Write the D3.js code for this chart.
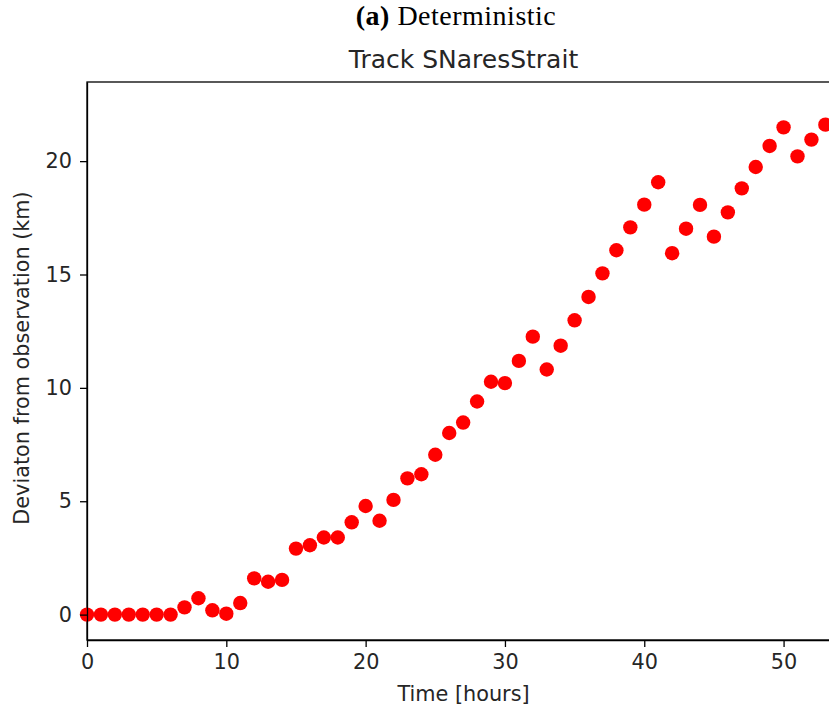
<!DOCTYPE html>
<html>
<head>
<meta charset="utf-8">
<script src="https://cdn.jsdelivr.net/npm/d3@7"></script>
<style>
  html, body { margin: 0; padding: 0; background: #fff; }
  svg { display: block; }
</style>
</head>
<body>
<svg id="chart" width="829" height="706"></svg>
<script>
// Track deviation from observation, one point per hour
const hours = d3.range(0, 54);
const deviationKm = [
  0, 0, 0, 0, 0, 0, 0, 0.32, 0.72, 0.19,
  0.04, 0.51, 1.60, 1.45, 1.53, 2.91, 3.06, 3.40, 3.40, 4.07,
  4.79, 4.14, 5.06, 6.01, 6.19, 7.05, 8.01, 8.47, 9.40, 10.27,
  10.21, 11.19, 12.26, 10.81, 11.86, 12.98, 14.01, 15.05, 16.07, 17.08,
  18.08, 19.07, 15.94, 17.02, 18.07, 16.67, 17.74, 18.80, 19.74, 20.67,
  21.49, 20.21, 20.95, 21.61
];
const xTicks = [0, 10, 20, 30, 40, 50];
const yTicks = [0, 5, 10, 15, 20];

const svg = d3.select("#chart");
const plot = { left: 87, right: 840, top: 82, bottom: 640 };

const x = d3.scaleLinear().domain([0, 54.05]).range([plot.left, plot.right]);
const y = d3.scaleLinear().domain([-1.12, 23.49]).range([plot.bottom, plot.top]);

const sans = "'DejaVu Sans', sans-serif";
const labelSize = "20.8px";

// Frame (top and right spines)
svg.append("rect")
  .attr("x", plot.left).attr("y", plot.top)
  .attr("width", plot.right - plot.left).attr("height", plot.bottom - plot.top)
  .attr("fill", "none").attr("stroke", "#000").attr("stroke-width", 1.3);

// Points
svg.append("g")
  .selectAll("circle")
  .data(hours.map((h, i) => [h, deviationKm[i]]))
  .join("circle")
  .attr("cx", d => x(d[0]))
  .attr("cy", d => y(d[1]))
  .attr("r", 7.2)
  .attr("fill", "#ff0000");

// Axes
const xAxis = svg.append("g")
  .attr("transform", `translate(0,${plot.bottom})`)
  .call(d3.axisBottom(x).tickValues(xTicks).tickSize(7).tickSizeOuter(0).tickPadding(7));
const yAxis = svg.append("g")
  .attr("transform", `translate(${plot.left},0)`)
  .call(d3.axisLeft(y).tickValues(yTicks).tickSize(7).tickSizeOuter(0).tickPadding(8));

[xAxis, yAxis].forEach(g => {
  g.select(".domain").attr("stroke", "#000").attr("stroke-width", 1.3);
  g.selectAll(".tick line").attr("stroke", "#000").attr("stroke-width", 1.3);
  g.selectAll(".tick text")
    .attr("fill", "#262626")
    .style("font-family", sans)
    .style("font-size", labelSize);
});

// Axis titles
svg.append("text")
  .attr("x", (plot.left + plot.right) / 2).attr("y", 701)
  .attr("text-anchor", "middle")
  .style("font-family", sans).style("font-size", labelSize)
  .attr("fill", "#262626")
  .text("Time [hours]");

svg.append("text")
  .attr("transform", `translate(29,${(plot.top + plot.bottom) / 2 - 3}) rotate(-90)`)
  .attr("text-anchor", "middle")
  .style("font-family", sans).style("font-size", labelSize)
  .attr("fill", "#262626")
  .text("Deviaton from observation (km)");

// Plot title
svg.append("text")
  .attr("x", (plot.left + plot.right) / 2).attr("y", 68)
  .attr("text-anchor", "middle")
  .style("font-family", sans).style("font-size", "25px")
  .attr("fill", "#262626")
  .text("Track SNaresStrait");

// Panel caption
const cap = svg.append("text")
  .attr("x", 456).attr("y", 25)
  .attr("text-anchor", "middle")
  .style("font-family", "'Liberation Serif', serif").style("font-size", "28px")
  .style("letter-spacing", "0.5px")
  .attr("fill", "#000");
cap.append("tspan").style("font-weight", "bold").text("(a)");
cap.append("tspan").text(" Deterministic");
</script>
</body>
</html>
